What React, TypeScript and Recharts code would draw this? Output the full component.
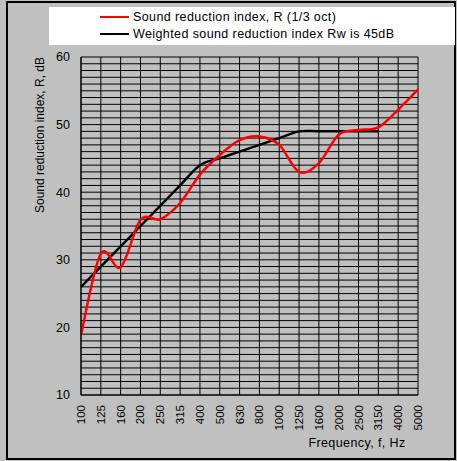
import React from "react";
import { CartesianGrid, Line, LineChart, XAxis, YAxis } from "recharts";

const FREQUENCIES = [
  "100", "125", "160", "200", "250", "315", "400", "500", "630",
  "800", "1000", "1250", "1600", "2000", "2500", "3150", "4000", "5000",
];
const R_VALUES = [
  18.9, 30.9, 28.9, 35.9, 36.0, 38.4, 42.6, 45.5, 47.7,
  48.25, 47.0, 43.0, 44.3, 48.5, 49.2, 49.6, 52.2, 55.2,
];
const RW_CURVE = [
  26, 29, 32, 35, 38, 41, 44, 45, 46,
  47, 48, 49, 49, 49, 49, 49, null, null,
];
const Y_LABELS = [10, 20, 30, 40, 50, 60];
const Y_MIN = 10;
const Y_MAX = 60;

const data = FREQUENCIES.map((f, i) => ({ f, r: R_VALUES[i], rw: RW_CURVE[i] }));
const gridTicks: number[] = [];
for (let v = Y_MIN; v <= Y_MAX; v++) gridTicks.push(v);

const FONT = "'Liberation Sans', Arial, sans-serif";

// excel-like smoothing (catmull-rom through every point)
function excelSmooth(context: any) {
  let pts: number[][] = [];
  return {
    areaStart() {},
    areaEnd() {},
    lineStart() {
      pts = [];
    },
    point(x: number, y: number) {
      pts.push([+x, +y]);
    },
    lineEnd() {
      if (!pts.length) return;
      context.moveTo(pts[0][0], pts[0][1]);
      if (pts.length === 1) return;
      for (let i = 0; i < pts.length - 1; i++) {
        const p0 = pts[i - 1] || pts[i];
        const p1 = pts[i];
        const p2 = pts[i + 1];
        const p3 = pts[i + 2] || p2;
        context.bezierCurveTo(
          p1[0] + (p2[0] - p0[0]) / 6,
          p1[1] + (p2[1] - p0[1]) / 6,
          p2[0] - (p3[0] - p1[0]) / 6,
          p2[1] - (p3[1] - p1[1]) / 6,
          p2[0],
          p2[1]
        );
      }
    },
  };
}

function FreqTick({ x, y, payload }: any) {
  return (
    <text
      x={x}
      y={y}
      transform={`rotate(-90 ${x} ${y})`}
      textAnchor="end"
      dy="0.35em"
      fontSize={11.5}
      fontFamily={FONT}
      fill="#000"
    >
      {payload.value}
    </text>
  );
}

export default function App() {
  return (
    <div style={{ position: "absolute", left: 0, top: 0, width: 457, height: 461, background: "#c0c0c0", fontFamily: FONT }}>
      <div
        style={{
          position: "absolute",
          left: 6,
          top: 1,
          width: 450,
          height: 459,
          border: "2px solid #000",
          boxSizing: "border-box",
        }}
      />
      <LineChart
        width={457}
        height={461}
        data={data}
        margin={{ top: 57, right: 39, bottom: 0, left: 0 }}
        style={{ position: "absolute", left: 0, top: 0 }}
      >
        <CartesianGrid stroke="#000" strokeWidth={1} fill="#c0c0c0" />
        <XAxis
          dataKey="f"
          scale="point"
          padding={{ left: 0, right: 0 }}
          interval={0}
          height={66}
          axisLine={{ stroke: "#000" }}
          tickLine={false}
          tickSize={0}
          tickMargin={10}
          tick={<FreqTick />}
          label={() => (
            <text x={357} y={447} textAnchor="middle" fontSize={12.5} fontFamily={FONT} fill="#000" letterSpacing={0.4}>
              Frequency, f, Hz
            </text>
          )}
        />
        <YAxis
          type="number"
          domain={[Y_MIN, Y_MAX]}
          ticks={gridTicks}
          interval={0}
          width={81}
          axisLine={{ stroke: "#000" }}
          tickLine={false}
          tickSize={0}
          tickMargin={11}
          tick={{ fontSize: 12.5, fill: "#000", fontFamily: FONT }}
          tickFormatter={(v: number) => (Y_LABELS.includes(v) ? String(v) : "")}
          label={() => (
            <text
              x={44}
              y={135}
              transform="rotate(-90 44 135)"
              textAnchor="middle"
              fontSize={12}
              fontFamily={FONT}
              fill="#000"
            >
              Sound reduction index, R, dB
            </text>
          )}
        />
        <Line
          dataKey="rw"
          type={excelSmooth as any}
          stroke="#000"
          strokeWidth={2.5}
          dot={false}
          activeDot={false}
          isAnimationActive={false}
        />
        <Line
          dataKey="r"
          type={excelSmooth as any}
          stroke="#ff0000"
          strokeWidth={2.5}
          dot={false}
          activeDot={false}
          isAnimationActive={false}
        />
      </LineChart>
      <div
        style={{
          position: "absolute",
          left: 49,
          top: 7,
          width: 406,
          height: 38,
          background: "#fff",
          fontSize: 12.5,
          letterSpacing: 0.4,
          color: "#000",
        }}
      >
        {[
          { color: "#ff0000", text: "Sound reduction index, R (1/3 oct)", top: 2 },
          { color: "#000", text: "Weighted sound reduction index Rw is 45dB", top: 19 },
        ].map((item) => (
          <div key={item.text} style={{ position: "absolute", left: 51, top: item.top, height: 16, display: "flex", alignItems: "center", whiteSpace: "nowrap" }}>
            <span style={{ display: "inline-block", width: 29, height: 2.5, background: item.color, marginRight: 4 }} />
            <span>{item.text}</span>
          </div>
        ))}
      </div>
    </div>
  );
}
